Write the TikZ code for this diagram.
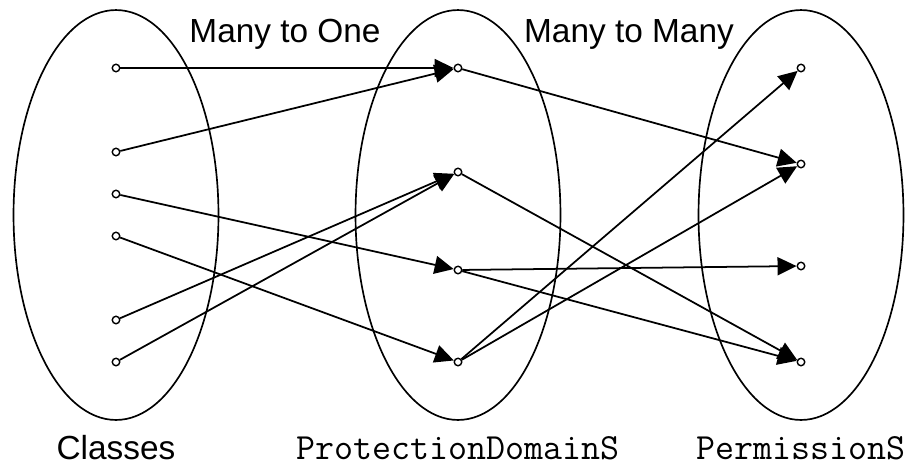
\documentclass[tikz,border=0pt]{standalone}
\usepackage{fontspec}
\usepackage{tikz}
\usetikzlibrary{arrows.meta, positioning, shapes.geometric}
\newfontfamily\labelsans{Liberation Sans}
\tikzset{
    setoval/.style={ellipse, draw, line width=0.95pt, inner sep=0pt, minimum width=4.1cm, minimum height=8.2cm},
    elem/.style={circle, draw, fill=white, line width=0.8pt, inner sep=0pt, minimum size=0.15cm},
    maparrow/.style={-{Triangle[length=0.38cm, width=0.36cm]}, line width=1pt},
    grouplabel/.style={font=\labelsans\fontsize{19}{22}\selectfont, anchor=base, inner sep=0pt},
    monolabel/.style={font=\ttfamily\fontsize{21}{24}\selectfont, anchor=base, inner sep=0pt}
}

\begin{document}
\begin{tikzpicture}[x=0.02cm, y=-0.02cm]
\useasboundingbox (0,0) rectangle (912,467);

\node[setoval] (classset) at (116,215) {};
\node[setoval] (domainset) at (458,215) {};
\node[setoval] (permset) at (801,215) {};

\node[grouplabel] (manyone) at (285,42) {Many to One};
\node[grouplabel] (manymany) at (629,42) {Many to Many};
\node[grouplabel] (classlbl) at (116,459) {Classes};
\node[monolabel] (domainlbl) at (458,459) {ProtectionDomainS};
\node[monolabel] (permlbl) at (801,459) {PermissionS};

\node[elem] (c1) at (116,68) {};
\node[elem] (c2) at (116,152) {};
\node[elem] (c3) at (116,194) {};
\node[elem] (c4) at (116,236) {};
\node[elem] (c5) at (116,320) {};
\node[elem] (c6) at (116,362) {};

\node[elem] (d1) at (458,68) {};
\node[elem] (d2) at (458,172) {};
\node[elem] (d3) at (458,270) {};
\node[elem] (d4) at (458,362) {};

\node[elem] (p1) at (801,68) {};
\node[elem] (p2) at (801,164) {};
\node[elem] (p3) at (801,266) {};
\node[elem] (p4) at (801,362) {};

\draw[maparrow] (c1) -- (d1);
\draw[maparrow] (c2) -- (d1);
\draw[maparrow] (c3) -- (d3);
\draw[maparrow] (c4) -- (d4);
\draw[maparrow] (c5) -- (d2);
\draw[maparrow] (c6) -- (d2);

\draw[maparrow] (d1) -- (p2);
\draw[maparrow] (d2) -- (p4);
\draw[maparrow] (d3) -- (p3);
\draw[maparrow] (d3) -- (p4);
\draw[maparrow] (d4) -- (p1);
\draw[maparrow] (d4) -- (p2);

\end{tikzpicture}
\end{document}
